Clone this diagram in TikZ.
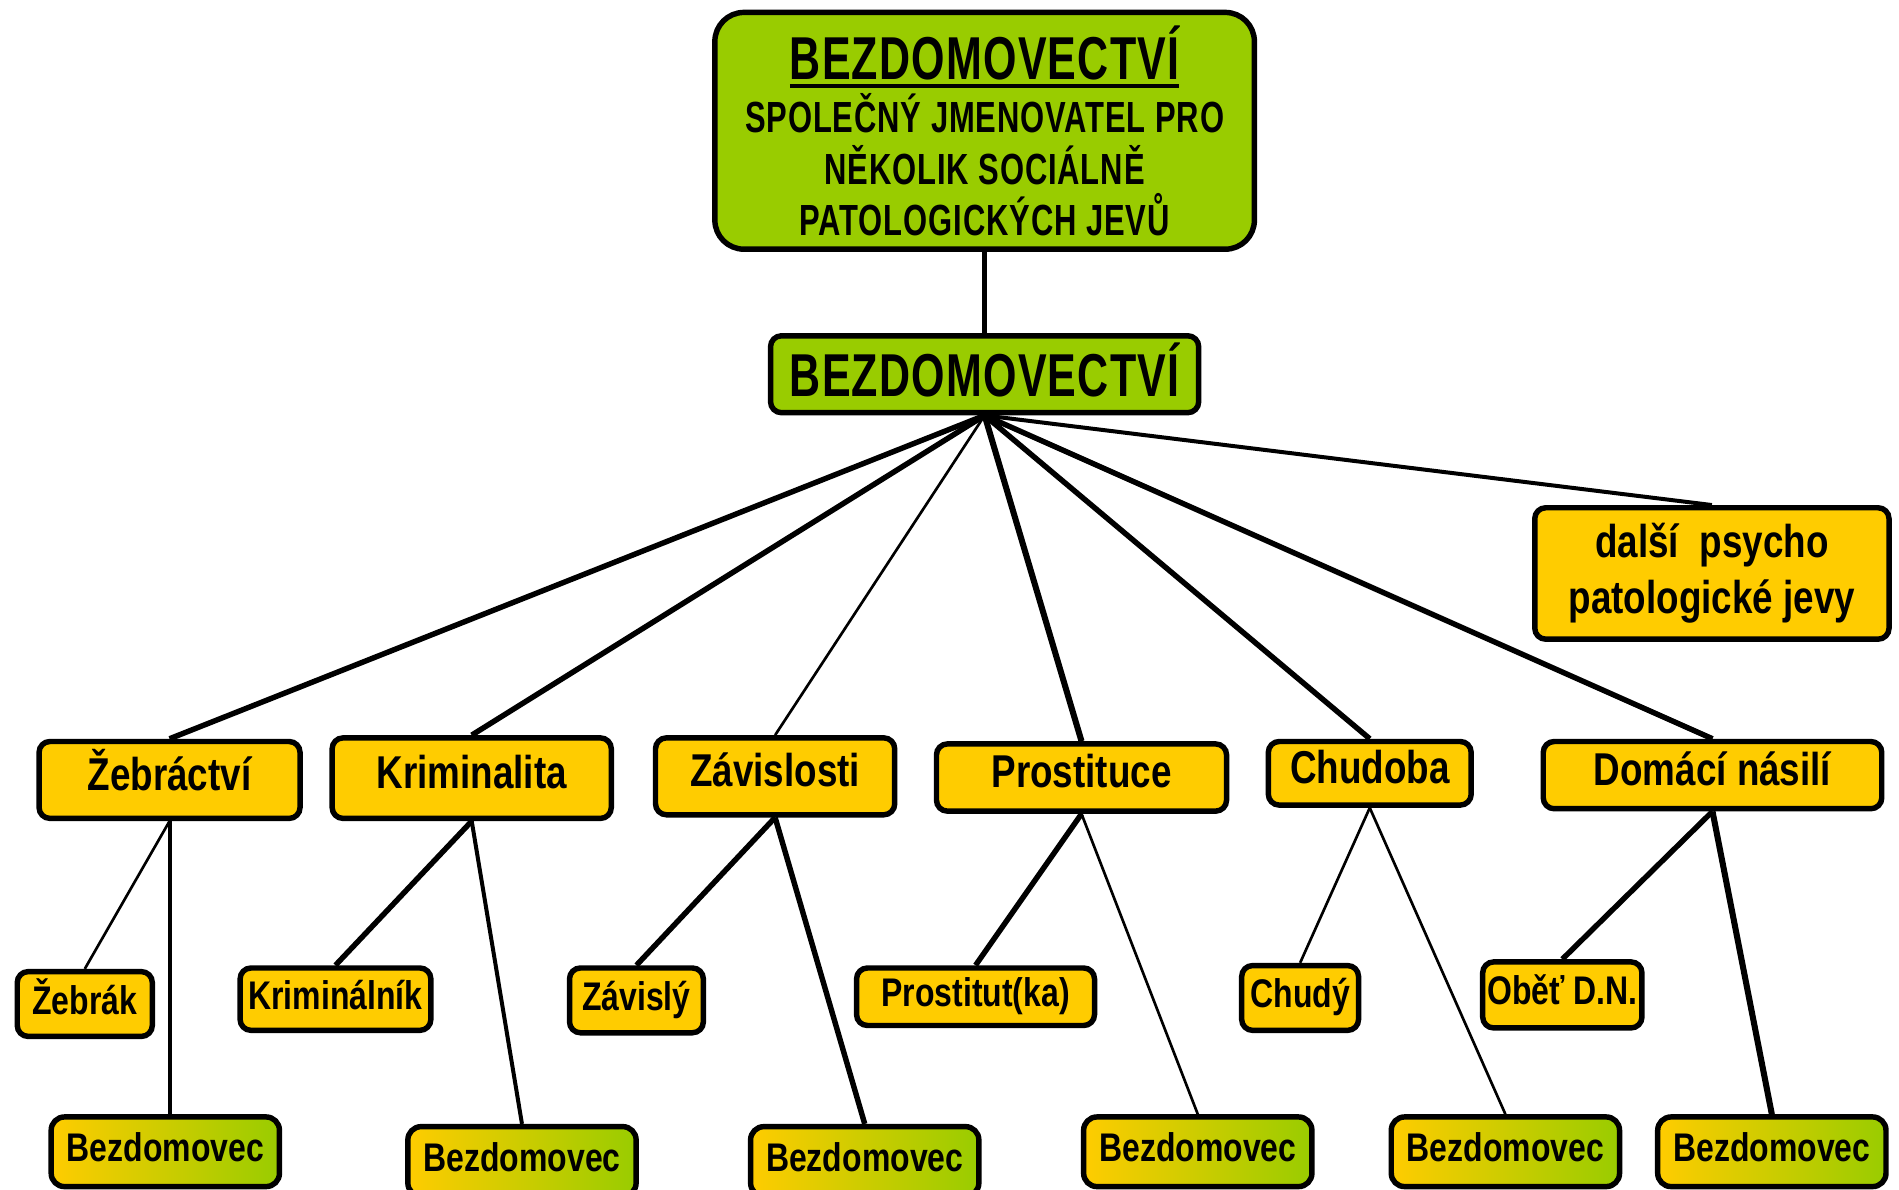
\documentclass[tikz,border=0pt]{standalone}
\usepackage{fontspec}
\setmainfont{Liberation Sans}
\newfontfamily\boxfont{Liberation Sans}[FakeStretch = 0.8]
\newfontfamily\capsfont{Liberation Sans}[FakeStretch = 0.71, LetterSpace = 2]

\definecolor{leafgreen}{HTML}{99CC00}
\definecolor{sunyellow}{HTML}{FFCC00}

\newcommand{\titleline}[1]{\setbox0=\hbox{#1}\vtop{\copy0\kern 3pt\hrule height 4pt width \wd0}}

\tikzset{
  framed/.style = {draw = black, line width = 4.5pt, inner sep = 0pt},
  topbox/.style = {framed, fill = leafgreen, rounded corners = 24pt, align = center,
    font = \capsfont\bfseries\fontsize{36}{42.5}\selectfont},
  mainbox/.style = {framed, fill = leafgreen, rounded corners = 9pt,
    font = \capsfont\bfseries\fontsize{50}{50}\selectfont, text height = 36pt, text depth = 0pt},
  yellowbox/.style = {framed, fill = sunyellow, rounded corners = 9pt,
    font = \boxfont\bfseries\fontsize{38}{46}\selectfont},
  catbox/.style = {yellowbox, text height = 27pt, text depth = 10pt},
  subbox/.style = {framed, fill = sunyellow, rounded corners = 9pt,
    font = \boxfont\bfseries\fontsize{33}{40}\selectfont, text height = 23.8pt, text depth = 7.3pt},
  homebox/.style = {subbox, left color = sunyellow, right color = leafgreen,
    rounded corners = 11pt, minimum width = 188.5pt, minimum height = 57.5pt},
  boldlink/.style = {line width = 4.5pt},
  midlink/.style = {line width = 3.3pt},
  thinlink/.style = {line width = 2.2pt}
}

\begin{document}
\begin{tikzpicture}[x = 1pt, y = -1pt]
  \useasboundingbox (0, 0) rectangle (1568, 982.5);
  \clip (0, 0) rectangle (1568, 982.5);

  \node[topbox, minimum width = 445.5pt, minimum height = 195.5pt] (root) at (813, 108)
    {{\fontsize{50}{50}\selectfont\titleline{BEZDOMOVECTVÍ}}\\[1.5pt]
     SPOLEČNÝ JMENOVATEL PRO\\NĚKOLIK SOCIÁLNĚ\\PATOLOGICKÝCH JEVŮ};
  \node[mainbox, minimum width = 353.5pt, minimum height = 63.5pt] (hub) at (813, 309)
    {BEZDOMOVECTVÍ};
  \node[yellowbox, align = center, minimum width = 292.5pt, minimum height = 108.5pt]
    (dalsi) at (1413.5, 473.5) {další~~psycho\\patologické jevy};

  % kategorie
  \node[catbox, minimum width = 215.5pt, minimum height = 63.5pt] (zebractvi) at (140, 644) {Žebráctví};
  \node[catbox, minimum width = 230.5pt, minimum height = 66.5pt] (kriminalita) at (389.5, 642.5) {Kriminalita};
  \node[catbox, minimum width = 197.5pt, minimum height = 63.5pt] (zavislosti) at (640, 641) {Závislosti};
  \node[catbox, minimum width = 239.5pt, minimum height = 55.5pt] (prostituce) at (893, 642) {Prostituce};
  \node[catbox, minimum width = 167.5pt, minimum height = 52.5pt] (chudoba) at (1131, 638.5) {Chudoba};
  \node[catbox, minimum width = 279.5pt, minimum height = 55.5pt] (nasili) at (1414, 640) {Domácí násilí};

  % osoby
  \node[subbox, minimum width = 111.5pt, minimum height = 53.5pt] (zebrak) at (70, 829) {Žebrák};
  \node[subbox, minimum width = 157.5pt, minimum height = 51.5pt] (kriminalnik) at (277, 825) {Kriminálník};
  \node[subbox, minimum width = 110.5pt, minimum height = 53.5pt] (zavisly) at (525.5, 826) {Závislý};
  \node[subbox, minimum width = 196.5pt, minimum height = 47.5pt] (prostitutka) at (805.5, 823) {Prostitut(ka)};
  \node[subbox, minimum width = 96.5pt, minimum height = 53.5pt] (chudy) at (1073.5, 824) {Chudý};
  \node[subbox, minimum width = 131.5pt, minimum height = 54.5pt] (obet) at (1290, 821.5) {Oběť D.N.};

  \node[homebox] (bez1) at (136.5, 951) {Bezdomovec};
  \node[homebox] (bez2) at (431, 959) {Bezdomovec};
  \node[homebox] (bez3) at (714, 959) {Bezdomovec};
  \node[homebox] (bez4) at (989, 951) {Bezdomovec};
  \node[homebox] (bez5) at (1243, 951) {Bezdomovec};
  \node[homebox] (bez6) at (1463, 951) {Bezdomovec};

  \draw[boldlink] (root) -- (hub);

  \draw[boldlink] (hub.south) -- (zebractvi.north);
  \draw[boldlink] (hub.south) -- (kriminalita.north);
  \draw[thinlink] (hub.south) -- (zavislosti.north);
  \draw[line width = 5pt] (hub.south) -- (prostituce.north);
  \draw[boldlink] (hub.south) -- (chudoba.north);
  \draw[boldlink] (hub.south) -- (nasili.north);
  \draw[midlink] (hub.south) -- (dalsi.north);

  \draw[thinlink] (zebractvi.south) -- (zebrak.north);
  \draw[midlink] (zebractvi.south) -- (zebractvi.south |- bez1.north);
  \draw[boldlink] (kriminalita.south) -- (kriminalnik.north);
  \draw[midlink] (kriminalita.south) -- (bez2.north);
  \draw[boldlink] (zavislosti.south) -- (zavisly.north);
  \draw[boldlink] (zavislosti.south) -- (bez3.north);
  \draw[boldlink] (prostituce.south) -- (prostitutka.north);
  \draw[thinlink] (prostituce.south) -- (bez4.north);
  \draw[thinlink] (chudoba.south) -- (chudy.north);
  \draw[thinlink] (chudoba.south) -- (bez5.north);
  \draw[boldlink] (nasili.south) -- (obet.north);
  \draw[line width = 5pt] (nasili.south) -- (bez6.north);
\end{tikzpicture}
\end{document}
